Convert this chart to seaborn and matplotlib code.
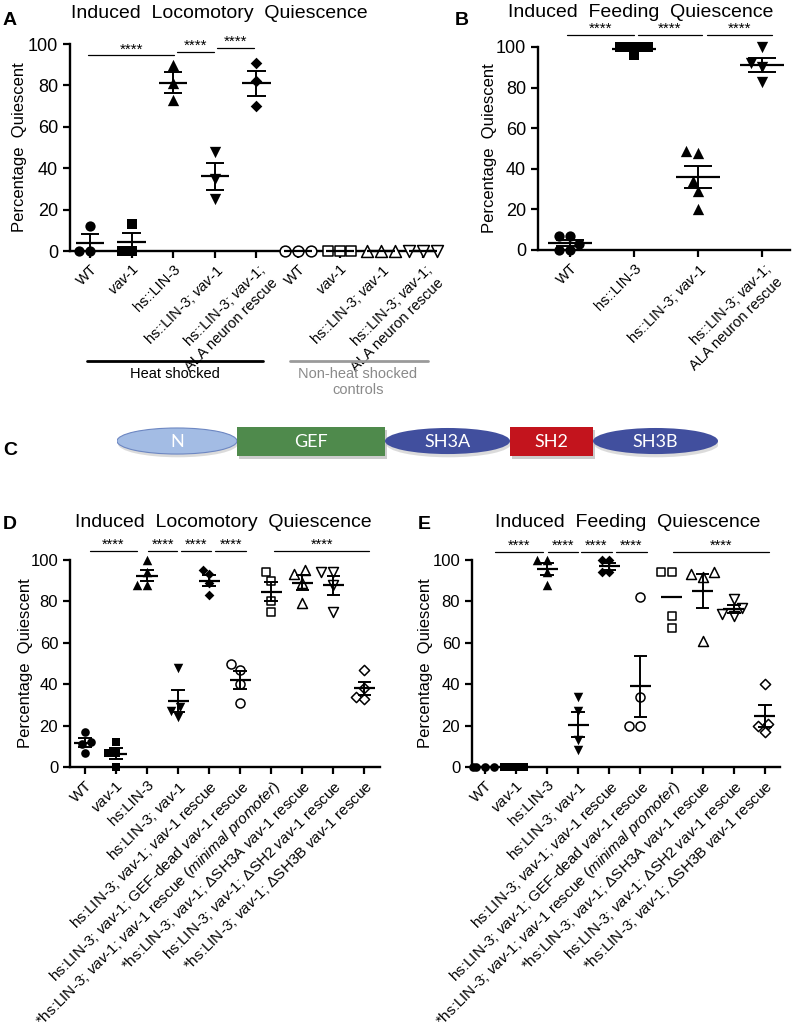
import numpy as np
import pandas as pd
import matplotlib
matplotlib.use("Agg")
import matplotlib.pyplot as plt
from matplotlib.patches import Ellipse, Rectangle
import seaborn as sns

sns.set_theme(style="ticks")
plt.rcParams["font.family"] = ["Liberation Sans", "DejaVu Sans"]
plt.rcParams["mathtext.fontset"] = "custom"
plt.rcParams["mathtext.rm"] = "Liberation Sans"
plt.rcParams["mathtext.it"] = "Liberation Sans:italic"
plt.rcParams["axes.edgecolor"] = "black"
plt.rcParams["xtick.color"] = "black"
plt.rcParams["ytick.color"] = "black"
plt.rcParams["text.color"] = "black"
plt.rcParams["axes.labelcolor"] = "black"

VAV = r"$\mathit{vav}$-$\mathit{1}$"

# ---------------- data ----------------
# Panel A : induced locomotory quiescence (heat shocked + non-heat-shocked controls)
a_keys = ["hs_WT", "hs_vav1", "hs_lin3", "hs_lin3_vav1", "hs_ala",
          "c_WT", "c_vav1", "c_lin3_vav1", "c_ala"]
a_ticklabels = ["WT", VAV, "hs::LIN-3", "hs::LIN-3; " + VAV,
                "hs::LIN-3; " + VAV + ";\nALA neuron rescue",
                "WT", VAV, "hs::LIN-3; " + VAV,
                "hs::LIN-3; " + VAV + ";\nALA neuron rescue"]
a_values = [[0, 0, 12], [0, 0, 13], [73, 81, 90], [25, 35, 48], [70, 82, 91],
            [0, 0, 0], [0, 0, 0], [0, 0, 0], [0, 0, 0]]
a_markers = ["o", "s", "^", "v", "D", "o", "s", "^", "v"]
a_open = [False] * 5 + [True] * 4

# Panel B : induced feeding quiescence
b_keys = ["WT", "lin3", "lin3_vav1", "ala"]
b_ticklabels = ["WT", "hs::LIN-3", "hs::LIN-3; " + VAV,
                "hs::LIN-3; " + VAV + ";\nALA neuron rescue"]
b_values = [[7, 7, 3, 0, 0], [100, 100, 100, 100, 96], [48, 49, 34, 29, 20],
            [100, 92, 90, 83]]
b_markers = ["o", "s", "^", "v"]
b_open = [False] * 4

# Panel C : VAV-1 domain structure
c_domains = ["N", "GEF", "SH3A", "SH2", "SH3B"]
c_lengths = [120, 148, 125, 83, 125]
c_shapes = ["ellipse", "rect", "ellipse", "rect", "ellipse"]
c_colors = ["#a3bce4", "#4f8a4c", "#414f9e", "#c3141d", "#414f9e"]

# Panels D/E : rescue constructs
de_keys = ["WT", "vav1", "lin3", "lin3_vav1", "rescue", "gefdead", "minprom",
           "dSH3A", "dSH2", "dSH3B"]
de_ticklabels = ["WT", VAV, "hs:LIN-3", "hs:LIN-3; " + VAV,
                 "hs:LIN-3; " + VAV + "; " + VAV + " rescue",
                 "hs:LIN-3; " + VAV + "; GEF-dead " + VAV + " rescue",
                 "*hs:LIN-3; " + VAV + "; " + VAV + r" rescue ($\mathit{minimal}$ $\mathit{promoter}$)",
                 "*hs:LIN-3; " + VAV + "; ΔSH3A " + VAV + " rescue",
                 "hs:LIN-3; " + VAV + "; ΔSH2 " + VAV + " rescue",
                 "*hs:LIN-3; " + VAV + "; ΔSH3B " + VAV + " rescue"]
d_values = [[17, 12, 11, 7], [12, 7, 7, 0], [100, 94, 88, 88], [48, 29, 27, 24],
            [95, 93, 89, 83], [50, 47, 40, 31], [94, 90, 80, 75], [95, 93, 89, 79],
            [94, 94, 88, 75], [47, 38, 34, 33]]
e_values = [[0, 0, 0, 0], [0, 0, 0, 0], [100, 100, 94, 88], [34, 27, 13, 8],
            [100, 100, 94, 94], [82, 34, 20, 20], [94, 94, 73, 67], [94, 93, 92, 61],
            [81, 77, 74, 73], [40, 21, 20, 17]]
de_markers = ["o", "s", "^", "v", "D", "o", "s", "^", "v", "D"]
de_open = [False] * 5 + [True] * 5
e_show_sem = [True] * 6 + [False] + [True] * 3

# ---------------- figure ----------------
W, H = 796, 1035
fig = plt.figure(figsize=(W / 100, H / 100), dpi=100)


def px_axes(left, top, right, bottom):
    return fig.add_axes([left / W, 1 - bottom / H, (right - left) / W, (bottom - top) / H])


MSCALE = {"o": 1.0, "s": 0.9, "^": 1.1, "v": 1.1, "D": 0.8}


def draw_panel(ax, keys, ticklabels, values, markers, opens, msize, xlim,
               tick_fs, label_fs, show_sem=None, mean_w=0.68, cap_w=0.44):
    if show_sem is None:
        show_sem = [True] * len(keys)
    for i, (k, vals, m, op) in enumerate(zip(keys, values, markers, opens)):
        df = pd.DataFrame({"group": [k] * len(vals), "value": vals})
        sz = msize * MSCALE[m]
        if op:
            sns.swarmplot(data=df, x="group", y="value", order=keys, ax=ax, marker=m,
                          color="white", edgecolor="black", linewidth=1.1,
                          size=sz * 1.05, zorder=3, clip_on=False)
        else:
            sns.swarmplot(data=df, x="group", y="value", order=keys, ax=ax, marker=m,
                          color="black", linewidth=0, size=sz, zorder=3,
                          clip_on=False)
        arr = np.asarray(vals, dtype=float)
        mean = arr.mean()
        sem = arr.std(ddof=1) / np.sqrt(len(arr))
        ax.hlines(mean, i - mean_w / 2, i + mean_w / 2, color="black", lw=1.6,
                  zorder=4, clip_on=False)
        if show_sem[i] and sem > 0:
            ax.vlines(i, mean - sem, mean + sem, color="black", lw=1.4, zorder=4,
                      clip_on=False)
            ax.hlines([mean - sem, mean + sem], i - cap_w / 2, i + cap_w / 2,
                      color="black", lw=1.4, zorder=4, clip_on=False)
    ax.set_xlim(*xlim)
    ax.set_ylim(0, 100)
    ax.set_yticks([0, 20, 40, 60, 80, 100])
    ax.set_xticks(range(len(keys)))
    ax.set_xticklabels(ticklabels, rotation=45, ha="right", va="top",
                       rotation_mode="anchor", fontsize=label_fs)
    ax.set_xlabel("")
    ax.set_ylabel("Percentage  Quiescent", fontsize=12)
    for s in ["top", "right"]:
        ax.spines[s].set_visible(False)
    for s in ["left", "bottom"]:
        ax.spines[s].set_linewidth(1.7)
    ax.tick_params(axis="both", direction="out", length=5, width=1.6,
                   labelsize=tick_fs)
    ax.tick_params(axis="x", labelsize=label_fs, pad=3)
    ax.grid(False)


def sig_bars(ax, bars, fs):
    for x0, x1, y in bars:
        ax.plot([x0, x1], [y, y], color="black", lw=0.9, clip_on=False)
        ax.text((x0 + x1) / 2, y + 1.0, "****", ha="center", va="baseline",
                fontsize=fs, clip_on=False)


# Panel A
axA = px_axes(70, 44, 435, 251)
draw_panel(axA, a_keys, a_ticklabels, a_values, a_markers, a_open, 7.4,
           (-0.48, 8.29), 13, 10.5)
sig_bars(axA, [(-0.05, 2.03, 94.5), (2.1, 2.98, 96.3), (3.05, 3.94, 98.0)], 11)
axA.yaxis.set_label_coords(-0.118, 0.5)

# Panel B
axB = px_axes(538, 47, 790, 250)
draw_panel(axB, b_keys, b_ticklabels, b_values, b_markers, b_open, 7.4,
           (-0.5, 3.44), 13, 10.5)
sig_bars(axB, [(-0.05, 1.0, 106), (1.06, 2.06, 106), (2.14, 3.16, 106)], 11)
axB.yaxis.set_label_coords(-0.163, 0.5)

# Panel D
axD = px_axes(70, 560, 380, 767)
draw_panel(axD, de_keys, de_ticklabels, d_values, de_markers, de_open, 6.2,
           (-0.48, 9.5), 12, 11)
sig_bars(axD, [(0.16, 1.68, 104.5), (2.03, 2.97, 104.5), (3.10, 4.06, 104.5),
               (4.2, 5.2, 104.5), (6.1, 9.15, 104.5)], 10.5)
axD.yaxis.set_label_coords(-0.119, 0.5)

# Panel E
axE = px_axes(472, 560, 780, 767)
draw_panel(axE, de_keys, de_ticklabels, e_values, de_markers, de_open, 6.2,
           (-0.42, 9.49), 12, 11, show_sem=e_show_sem)
sig_bars(axE, [(0.32, 1.86, 104), (2.03, 2.99, 104), (3.09, 4.08, 104),
               (4.21, 5.21, 104), (6.05, 9.13, 104)], 10.5)
axE.yaxis.set_label_coords(-0.127, 0.5)

# Panel C : domain diagram
axC = px_axes(117, 426, 718, 460)
total = sum(c_lengths)
axC.set_xlim(0, total)
axC.set_ylim(-0.15, 1.05)
axC.axis("off")
start = 0
for name, length, shape, col in zip(c_domains, c_lengths, c_shapes, c_colors):
    cx = start + length / 2
    if shape == "rect":
        axC.add_patch(Rectangle((start + 2, -0.1), length, 1.0, color="#9a9a9a",
                                alpha=0.5, zorder=1, lw=0))
        axC.add_patch(Rectangle((start, 0.0), length, 1.0, facecolor=col,
                                edgecolor="none", zorder=2))
    else:
        axC.add_patch(Ellipse((cx + 1, 0.42), length, 0.95, color="#9a9a9a",
                              alpha=0.35, zorder=1, lw=0))
        axC.add_patch(Ellipse((cx, 0.52), length, 0.92, facecolor=col,
                              edgecolor="#6d87c2" if name == "N" else "none",
                              lw=0.8, zorder=2))
    axC.text(cx, 0.5, name, ha="center", va="center", color="white",
             fontsize=13, family=["Lato", "DejaVu Sans"], zorder=3)
    start += length

# overlay for titles, panel letters and group annotations (pixel coordinates)
ov = fig.add_axes([0, 0, 1, 1])
ov.set_xlim(0, W)
ov.set_ylim(H, 0)
ov.axis("off")
ov.patch.set_visible(False)

title_fs = 14
ov.text(219, 18, "Induced  Locomotory  Quiescence", ha="center", va="baseline",
        fontsize=title_fs)
ov.text(641, 17, "Induced  Feeding  Quiescence", ha="center", va="baseline",
        fontsize=title_fs)
ov.text(223, 527, "Induced  Locomotory  Quiescence", ha="center", va="baseline",
        fontsize=title_fs)
ov.text(628, 527, "Induced  Feeding  Quiescence", ha="center", va="baseline",
        fontsize=title_fs)

for letter, x, y in [("A", 3, 25), ("B", 455, 25), ("C", 3, 455), ("D", 3, 529),
                     ("E", 418, 529)]:
    ov.text(x, y, letter, ha="left", va="baseline", fontsize=14, fontweight="bold")

ov.plot([87, 263], [361, 361], color="black", lw=2)
ov.text(175, 378, "Heat shocked", ha="center", va="baseline", fontsize=10.5)
ov.plot([290, 428], [361, 361], color="#9a9a9a", lw=2)
ov.text(358, 382, "Non-heat shocked\ncontrols", ha="center", va="center",
        fontsize=10.5, color="#8a8a8a", linespacing=1.15)

fig.savefig("out.png", dpi=100)
